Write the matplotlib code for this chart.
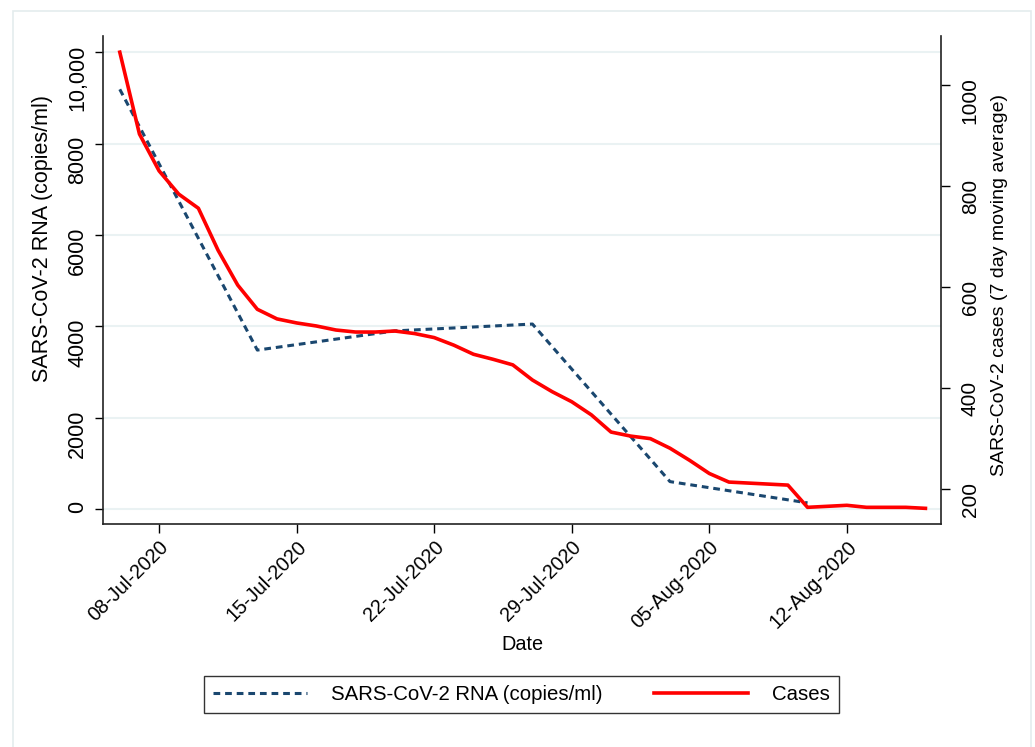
import matplotlib.pyplot as plt
import matplotlib.dates as mdates
from matplotlib.patches import Rectangle
import pandas as pd

plt.rcParams['font.family'] = ['Liberation Sans', 'DejaVu Sans']

# daily cases, 7 day moving average, 06-Jul-2020 .. 16-Aug-2020
case_dates = pd.date_range('2020-07-06', '2020-08-16', freq='D')
cases = [1065, 903, 830, 784, 756, 673, 604, 556, 537, 529,
         523, 515, 511, 511, 513, 508, 500, 485, 467, 457,
         446, 416, 393, 373, 347, 313, 305, 300, 281, 257,
         231, 214, 212, 210, 208, 164, 166, 168, 164, 164,
         164, 162]

# weekly wastewater samples
rna_dates = pd.to_datetime(['2020-07-06', '2020-07-13', '2020-07-20',
                            '2020-07-27', '2020-08-03', '2020-08-10'])
rna = [9190, 3480, 3900, 4050, 600, 135]

tick_dates = pd.to_datetime(['2020-07-08', '2020-07-15', '2020-07-22',
                             '2020-07-29', '2020-08-05', '2020-08-12'])
rna_ticks = [0, 2000, 4000, 6000, 8000, 10000]
rna_ticklabels = ['0', '2000', '4000', '6000', '8000', '10,000']
case_ticks = [200, 400, 600, 800, 1000]

W, H = 1035, 747
fig = plt.figure(figsize=(W / 100, H / 100), dpi=100)
fig.patches.append(Rectangle((13 / W, -0.01), 1018 / W, 1 - 11 / H + 0.01,
                             transform=fig.transFigure, fill=False,
                             edgecolor='#e4eced', lw=1.2))

ax = fig.add_axes([103 / W, 1 - 524 / H, 838 / W, 488 / H])
ax2 = ax.twinx()

ax.plot(rna_dates, rna, color='#1a476f', lw=2.2, dashes=(2.2, 1.6),
        label='SARS-CoV-2 RNA (copies/ml)')
ax2.plot(case_dates, cases, color='#ff0000', lw=2.6, label='Cases')

ax.set_xlim(pd.Timestamp('2020-07-05 03:30'), pd.Timestamp('2020-08-16 19:00'))
ax.set_ylim(-328, 10357)
ax2.set_ylim(131, 1097)

ax.set_yticks(rna_ticks)
ax.set_yticklabels(rna_ticklabels)
ax2.set_yticks(case_ticks)
ax.set_xticks(tick_dates)
ax.xaxis.set_major_formatter(mdates.DateFormatter('%d-%b-%Y'))

ax.yaxis.grid(True, color='#eaf2f3', lw=1.5)
ax.set_axisbelow(True)

ax.tick_params(axis='y', direction='out', length=5.8, width=1, pad=5,
               labelsize=15.5, labelrotation=90)
ax.tick_params(axis='x', direction='out', length=6.5, width=1, pad=3,
               labelsize=14.3)
ax2.tick_params(axis='y', direction='out', length=6.2, width=1, pad=8,
                labelsize=15, labelrotation=90)
for lab in ax.get_xticklabels():
    lab.set_rotation(45)
    lab.set_ha('right')
    lab.set_rotation_mode('anchor')

for s in ['top', 'right']:
    ax.spines[s].set_visible(False)
for s in ['top', 'left', 'bottom']:
    ax2.spines[s].set_visible(False)
for a in (ax, ax2):
    for s in a.spines.values():
        s.set_color('#222222')
        s.set_linewidth(1.2)

fig.text(43 / W, 1 - 238 / H, 'SARS-CoV-2 RNA (copies/ml)', rotation=90,
         ha='center', va='center', fontsize=15.5)
fig.text(1000 / W, 1 - 285 / H, 'SARS-CoV-2 cases (7 day moving average)',
         rotation=90, ha='center', va='center', fontsize=14)
fig.text(522 / W, 1 - 645 / H, 'Date', ha='center', va='center', fontsize=14.3)

h1, l1 = ax.get_legend_handles_labels()
h2, l2 = ax2.get_legend_handles_labels()
leg = fig.legend(h1 + h2, l1 + l2, loc='center', ncol=2,
                 bbox_to_anchor=(521.5 / W, 1 - 694.5 / H), fontsize=14.7,
                 frameon=True, fancybox=False, handlelength=4.6,
                 handletextpad=1.2, columnspacing=2.5, borderpad=0.45)
leg.get_frame().set_edgecolor('#000000')
leg.get_frame().set_linewidth(1.0)

fig.savefig('out.png', dpi=100)
